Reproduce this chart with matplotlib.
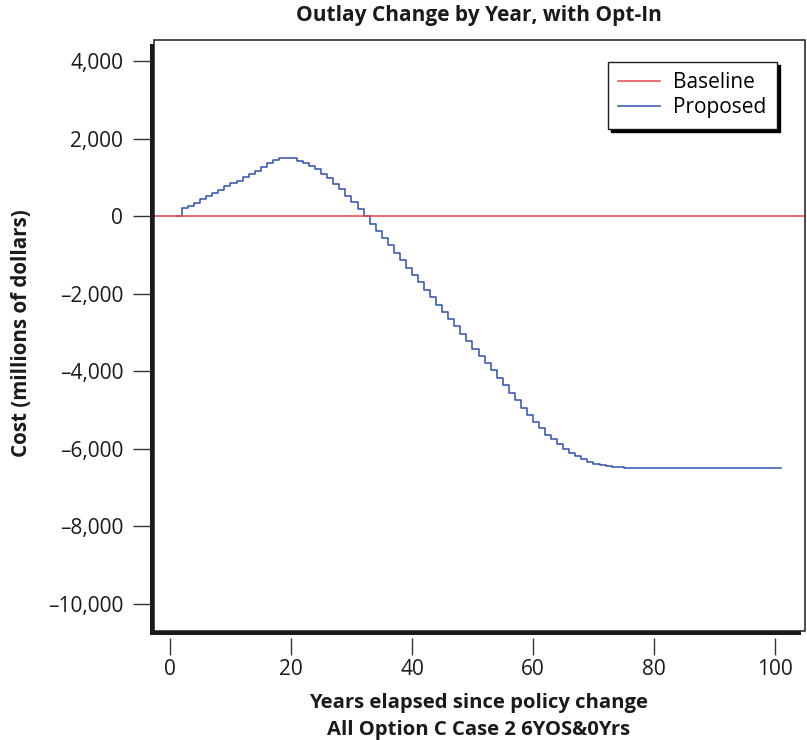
import matplotlib
matplotlib.use("Agg")
import matplotlib.pyplot as plt
from matplotlib.patches import Rectangle

plt.rcParams['font.family'] = ['Open Sans', 'DejaVu Sans']

# ---- data ----
years = list(range(1, 102))
proposed = [
    0, 206, 273, 351, 446, 531, 601, 686, 773, 858,
    918, 1005, 1090, 1175, 1278, 1366, 1459, 1494, 1494, 1486,
    1434, 1374, 1288, 1211, 1090, 987, 833, 687, 532, 377,
    180, -5, -190, -379, -567, -756, -954, -1143, -1332, -1521,
    -1710, -1907, -2096, -2285, -2474, -2663, -2835, -3034, -3232, -3420,
    -3608, -3789, -3979, -4175, -4366, -4554, -4742, -4948, -5139, -5310,
    -5470, -5630, -5758, -5887, -5997, -6100, -6196, -6273, -6340, -6392,
    -6428, -6454, -6469, -6480, -6487, -6487, -6487, -6487, -6487, -6487,
    -6487, -6487, -6487, -6487, -6487, -6487, -6487, -6487, -6487, -6487,
    -6487, -6487, -6487, -6487, -6487, -6487, -6487, -6487, -6487, -6487,
    -6487,
]
baseline = 0
xticks = [0, 20, 40, 60, 80, 100]
yticks = [4000, 2000, 0, -2000, -4000, -6000, -8000, -10000]
ytick_labels = ['4,000', '2,000', '0', '\u20132,000', '\u20134,000',
                '\u20136,000', '\u20138,000', '\u201310,000']

title = 'Outlay Change by Year, with Opt-In'
xlabel1 = 'Years elapsed since policy change'
xlabel2 = 'All Option C Case 2 6YOS&0Yrs'
ylabel = 'Cost (millions of dollars)'

# ---- figure ----
W, H = 807, 740
fig = plt.figure(figsize=(W / 100, H / 100), dpi=100)
left, right, top, bottom = 154, 804.5, 39.5, 630.5
ax = fig.add_axes([left / W, (H - bottom) / H, (right - left) / W, (bottom - top) / H])

# shadow behind frame (down-left)
fig.patches.append(Rectangle((left / W - 4 / W, (H - bottom) / H - 4 / H),
                             (right - left) / W, (bottom - top) / H,
                             transform=fig.transFigure, facecolor='#1a1a1a',
                             edgecolor='none', zorder=-1))

blue = '#2f4fae'
red = '#e8474a'
ax.step(years, proposed, where='post', color=blue, lw=1.1, label='Proposed', zorder=3)
ax.axhline(baseline, color=red, lw=1.1, label='Baseline', zorder=4)

x0, x1 = -2.64, -2.64 + (right - left) / 6.05
ax.set_xlim(x0, x1)
ax.set_ylim(-10683, 4554)

# frame
ax.add_patch(Rectangle((0, 0), 1, 1, transform=ax.transAxes, fill=False,
                       edgecolor='#1a1a1a', lw=1.1, clip_on=False, zorder=5))
for s in ax.spines.values():
    s.set_color('none')
ax.spines['left'].set_position(('outward', 2.9))
ax.spines['bottom'].set_position(('outward', 5.4))

ax.set_xticks(xticks)
ax.set_xticklabels([str(v) for v in xticks])
ax.set_yticks(yticks)
ax.set_yticklabels(ytick_labels)
ax.tick_params(axis='both', length=12.2, width=1.0, color='#333333',
               labelsize=15, labelcolor='#1a1a1a')
ax.tick_params(axis='y', pad=7)
ax.tick_params(axis='x', pad=3)

# legend
handles, labels = ax.get_legend_handles_labels()
order = [labels.index('Baseline'), labels.index('Proposed')]
leg = ax.legend([handles[i] for i in order], [labels[i] for i in order],
                loc='upper right', bbox_to_anchor=((777 - left) / (right - left), (bottom - 62) / (bottom - top)),
                borderaxespad=0, fontsize=15, frameon=True, fancybox=False,
                shadow={'color': 'black', 'alpha': 1.0, 'ox': 2.5, 'oy': -2.5},
                handlelength=2.0, handletextpad=0.65, labelspacing=0.18,
                borderpad=0.5)
leg.get_frame().set_edgecolor('#1a1a1a')
leg.get_frame().set_linewidth(1.0)
leg.get_frame().set_alpha(1)

fig.text(479 / W, 1 - 15 / H, title, ha='center', va='center', fontsize=15, fontweight='bold', color='#1a1a1a')
fig.text(479 / W, 1 - 703 / H, xlabel1, ha='center', va='center', fontsize=14.6, fontweight='bold', color='#1a1a1a')
fig.text(479 / W, 1 - 730 / H, xlabel2, ha='center', va='center', fontsize=14.6, fontweight='bold', color='#1a1a1a')
fig.text(22 / W, 1 - 333 / H, ylabel, ha='center', va='center', rotation=90, fontsize=14.8, fontweight='bold', color='#1a1a1a')

fig.savefig('out.png', dpi=100)
